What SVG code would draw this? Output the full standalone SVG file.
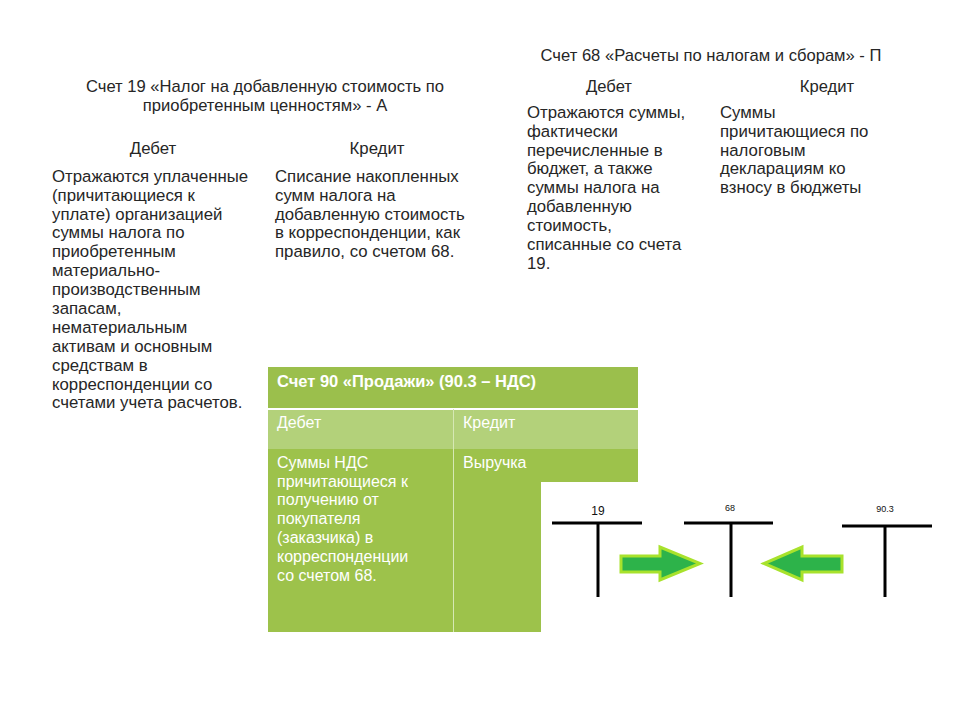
<svg xmlns="http://www.w3.org/2000/svg" width="960" height="720" viewBox="0 0 960 720">
<style>
text{font-family:"Liberation Sans",Arial,sans-serif;fill:#262626}
.t{font-size:16.6px}
.b{font-size:16.8px}
.w{fill:#ffffff;font-size:16px}
.wb{fill:#ffffff;font-size:16.5px;font-weight:bold}
.tl{stroke:#000;stroke-width:3;fill:none}
.arr{fill:#2db34a;stroke:#a8e22c;stroke-width:3;stroke-linejoin:miter}
.lbl{font-family:"Liberation Sans",Arial,sans-serif;fill:#111;text-anchor:middle}
</style>
<rect width="960" height="720" fill="#fff"/>

<g id="acc19">
<text class="t" x="265" y="92" text-anchor="middle">Счет 19 «Налог на добавленную стоимость по</text>
<text class="t" x="265" y="111" text-anchor="middle">приобретенным ценностям» - А</text>
<text class="b" x="153" y="154" text-anchor="middle">Дебет</text>
<text class="b" x="377" y="154" text-anchor="middle">Кредит</text>
<text class="b" x="52" y="182">Отражаются уплаченные</text>
<text class="b" x="52" y="201">(причитающиеся к</text>
<text class="b" x="52" y="220">уплате) организацией</text>
<text class="b" x="52" y="238">суммы налога по</text>
<text class="b" x="52" y="257">приобретенным</text>
<text class="b" x="52" y="276">материально-</text>
<text class="b" x="52" y="295">производственным</text>
<text class="b" x="52" y="314">запасам,</text>
<text class="b" x="52" y="333">нематериальным</text>
<text class="b" x="52" y="352">активам и основным</text>
<text class="b" x="52" y="371">средствам в</text>
<text class="b" x="52" y="390">корреспонденции со</text>
<text class="b" x="52" y="408">счетами учета расчетов.</text>
<text class="b" x="275" y="182">Списание накопленных</text>
<text class="b" x="275" y="201">сумм налога на</text>
<text class="b" x="275" y="220">добавленную стоимость</text>
<text class="b" x="275" y="238">в корреспонденции, как</text>
<text class="b" x="275" y="257">правило, со счетом 68.</text>
</g>

<g id="acc68">
<text class="t" x="711" y="61" text-anchor="middle">Счет 68 «Расчеты по налогам и сборам» - П</text>
<text class="t" x="609" y="92" text-anchor="middle">Дебет</text>
<text class="t" x="827" y="92" text-anchor="middle">Кредит</text>
<text class="b" x="527" y="118">Отражаются суммы,</text>
<text class="b" x="527" y="137">фактически</text>
<text class="b" x="527" y="156">перечисленные в</text>
<text class="b" x="527" y="174">бюджет, а также</text>
<text class="b" x="527" y="193">суммы налога на</text>
<text class="b" x="527" y="212">добавленную</text>
<text class="b" x="527" y="231">стоимость,</text>
<text class="b" x="527" y="250">списанные со счета</text>
<text class="b" x="527" y="269">19.</text>
<text class="b" x="720" y="118">Суммы</text>
<text class="b" x="720" y="137">причитающиеся по</text>
<text class="b" x="720" y="156">налоговым</text>
<text class="b" x="720" y="174">декларациям ко</text>
<text class="b" x="720" y="193">взносу в бюджеты</text>
</g>

<g id="acc90">
<rect x="268" y="367" width="370" height="41" fill="#9bbf4c"/>
<rect x="268" y="410" width="370" height="39" fill="#b3d17a"/>
<rect x="268" y="449" width="370" height="183" fill="#9dc24b"/>
<line x1="268" y1="409" x2="638" y2="409" stroke="#fff" stroke-width="2"/>
<line x1="453.5" y1="409" x2="453.5" y2="632" stroke="#d6e8b4" stroke-width="1"/>
<text class="wb" x="277" y="387">Счет 90 «Продажи» (90.3 – НДС)</text>
<text class="w" x="277" y="428">Дебет</text>
<text class="w" x="463" y="428">Кредит</text>
<text class="w" x="277" y="468">Суммы НДС</text>
<text class="w" x="277" y="487">причитающиеся к</text>
<text class="w" x="277" y="505">получению от</text>
<text class="w" x="277" y="524">покупателя</text>
<text class="w" x="277" y="543">(заказчика) в</text>
<text class="w" x="277" y="562">корреспонденции</text>
<text class="w" x="277" y="581">со счетом 68.</text>
<text class="w" x="463" y="468">Выручка</text>
</g>

<g id="tscheme">
<rect x="541" y="482" width="405" height="155" fill="#fff"/>
<g id="t19">
<line class="tl" x1="552" y1="523" x2="642" y2="523"/>
<line class="tl" x1="598" y1="523" x2="598" y2="597"/>
<text class="lbl" x="598" y="515" font-size="12">19</text>
</g>
<g id="t68">
<line class="tl" x1="684" y1="523" x2="773" y2="523"/>
<line class="tl" x1="731" y1="523" x2="731" y2="597"/>
<text class="lbl" x="730" y="511" font-size="9">68</text>
</g>
<g id="t903">
<line class="tl" x1="842" y1="526" x2="932" y2="526"/>
<line class="tl" x1="885" y1="526" x2="885" y2="597"/>
<text class="lbl" x="885" y="512" font-size="9">90.3</text>
</g>
</g>

<g id="connectors">
<polygon class="arr" points="621,556 660,556 660,547 700,563.5 660,580 660,572 621,572"/>
<polygon class="arr" points="842,556 802,556 802,547 764,563.5 802,580 802,572 842,572"/>
</g>
</svg>
